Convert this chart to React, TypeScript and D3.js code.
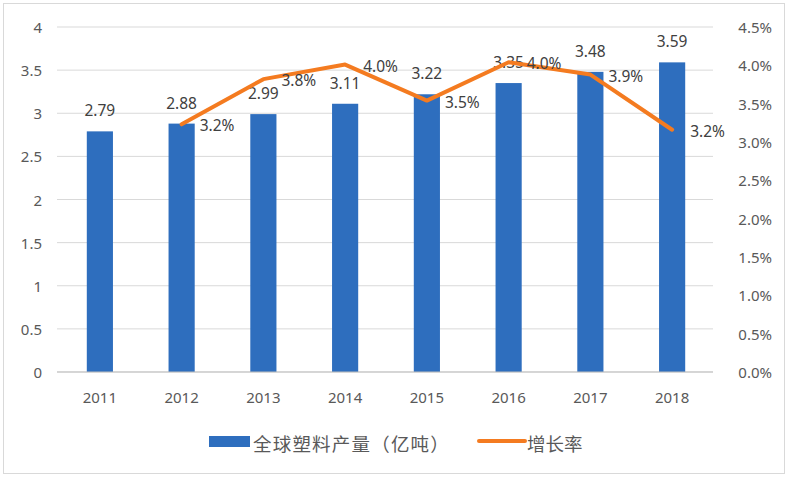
import * as d3 from 'd3';

const years = ['2011', '2012', '2013', '2014', '2015', '2016', '2017', '2018'];
const output = [2.79, 2.88, 2.99, 3.11, 3.22, 3.35, 3.48, 3.59];
const growthYears = ['2012', '2013', '2014', '2015', '2016', '2017', '2018'];
const growth = [3.23, 3.82, 4.01, 3.54, 4.04, 3.88, 3.16];
const leftTicks = [0, 0.5, 1, 1.5, 2, 2.5, 3, 3.5, 4];
const rightTicks = [0, 0.5, 1, 1.5, 2, 2.5, 3, 3.5, 4, 4.5];

const W = 790;
const H = 477;
const BLUE = '#2E6EBE';
const ORANGE = '#F47B20';
const TXT = '#595959';
const FONT = '"Noto Sans", "Noto Sans CJK SC", sans-serif';

export default function App() {
  const x = d3.scaleBand<string>().domain(years).range([59, 713]).paddingInner(0.68).paddingOuter(0.34);
  const yL = d3.scaleLinear().domain([0, 4]).range([372, 27]);
  const yR = d3.scaleLinear().domain([0, 4.5]).range([372, 27]);
  const cx = (y: string) => (x(y) ?? 0) + x.bandwidth() / 2;

  const line = d3
    .line<number>()
    .x((_, i) => cx(growthYears[i]))
    .y((d) => yR(d));

  return (
    <svg
      width={W}
      height={H}
      style={{ position: 'absolute', left: 0, top: 0, background: '#fff' }}
      fontFamily={FONT}
    >
      <rect x={3.5} y={3.5} width={781} height={470} fill="#fff" stroke="#d9d9d9" />
      {leftTicks.map((t) => (
        <g key={t}>
          <line x1={57} x2={713} y1={yL(t)} y2={yL(t)} stroke="#d9d9d9" strokeWidth={1} />
          <text x={42} y={yL(t)} textAnchor="end" dominantBaseline="central" fontSize={15} fill={TXT}>
            {t}
          </text>
        </g>
      ))}
      {rightTicks.map((t) => (
        <text key={t} x={772} y={yR(t)} textAnchor="end" dominantBaseline="central" fontSize={15} fill={TXT}>
          {t.toFixed(1)}%
        </text>
      ))}
      {years.map((y, i) => (
        <g key={y}>
          <rect x={x(y)} y={yL(output[i])} width={x.bandwidth()} height={yL(0) - yL(output[i])} fill={BLUE} />
          <text x={cx(y)} y={yL(output[i]) - 21} textAnchor="middle" dominantBaseline="central" fontSize={15.5} fill="#404040">
            {output[i]}
          </text>
          <text x={cx(y)} y={397} textAnchor="middle" dominantBaseline="central" fontSize={15} fill={TXT}>
            {y}
          </text>
        </g>
      ))}
      <line x1={57} x2={713} y1={372} y2={372} stroke="#bfbfbf" />
      <path d={line(growth) ?? ''} fill="none" stroke={ORANGE} strokeWidth={4} strokeLinejoin="round" strokeLinecap="round" />
      {growth.map((g, i) => (
        <text key={i} x={cx(growthYears[i]) + 18} y={yR(g) + 1} dominantBaseline="central" fontSize={15.5} fill="#404040">
          {g.toFixed(1)}%
        </text>
      ))}
      <rect x={209} y={436} width={41} height={11} fill={BLUE} />
      <text x={253} y={443} dominantBaseline="central" fontSize={18.5} fill={TXT} letterSpacing={1.2}>
        全球塑料产量（亿吨）
      </text>
      <line x1={479} x2={525} y1={441} y2={441} stroke={ORANGE} strokeWidth={4} strokeLinecap="round" />
      <text x={527} y={443} dominantBaseline="central" fontSize={18.5} fill={TXT}>
        增长率
      </text>
    </svg>
  );
}
